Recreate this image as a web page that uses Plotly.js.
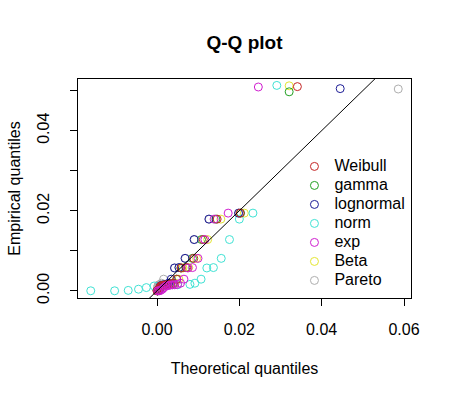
<!DOCTYPE html>
<html>
<head>
<meta charset="utf-8">
<script src="https://cdn.plot.ly/plotly-3.0.1.min.js"></script>
<style>html,body{margin:0;padding:0;background:#fff;}#chart{width:451px;height:397px;}</style>
</head>
<body>
<div id="chart"></div>
<script>
// Empirical quantiles (shared, ranks 1..19) and per-series top value
const empirical = [0.0000, 0.0000, 0.0001, 0.0004, 0.0008, 0.0012, 0.0013, 0.0014, 0.0015, 0.0015, 0.0016, 0.0019, 0.0029, 0.0057, 0.0058, 0.0081, 0.0128, 0.0179, 0.0194];
const seriesNames = ["Weibull", "gamma", "lognormal", "norm", "exp", "Beta", "Pareto"];
const empiricalTop = [0.0510, 0.0497, 0.0505, 0.0513, 0.0509, 0.0512, 0.0504];

// Theoretical quantiles per fitted distribution
const weibull = [0.00002, 0.00011, 0.00025, 0.00043, 0.00065, 0.00092, 0.00124, 0.00162, 0.00206, 0.00258, 0.00319, 0.00392, 0.00480, 0.00587, 0.00721, 0.00893, 0.01124, 0.0146, 0.0202, 0.0341];
const gamma = [0.00004, 0.00018, 0.00036, 0.00058, 0.00083, 0.00112, 0.00145, 0.00183, 0.00226, 0.00275, 0.0033, 0.0040, 0.0048, 0.0058, 0.0070, 0.0086, 0.0108, 0.0143, 0.0203, 0.0321];
const lognormal = [0.00010, 0.00022, 0.00035, 0.00049, 0.00065, 0.00083, 0.00104, 0.00128, 0.00157, 0.00190, 0.00232, 0.00281, 0.00345, 0.00426, 0.00533, 0.0068, 0.0090, 0.0126, 0.0198, 0.0445];
const norm = [-0.0161, -0.0103, -0.0070, -0.0045, -0.0026, -0.0007, 0.0009, 0.0023, 0.0038, 0.0050, 0.0080, 0.0092, 0.0107, 0.0121, 0.0137, 0.0156, 0.0176, 0.0200, 0.0233, 0.0291];
const expo = [0.00017, 0.00052, 0.00089, 0.00128, 0.00170, 0.00215, 0.00262, 0.00313, 0.00369, 0.00430, 0.00497, 0.00571, 0.00654, 0.00750, 0.00861, 0.00995, 0.01163, 0.01387, 0.01728, 0.02461];
const beta = [0.00005, 0.0002, 0.0004, 0.00065, 0.00095, 0.0013, 0.0017, 0.0021, 0.0026, 0.0031, 0.0037, 0.0044, 0.0053, 0.0063, 0.0077, 0.0096, 0.0123, 0.0155, 0.0212, 0.0321];
const pareto = [0.00000, 0.00002, 0.00005, 0.0001, 0.00015, 0.0002, 0.00028, 0.00036, 0.00046, 0.0006, 0.0008, 0.0011, 0.0016, 0.0042, 0.0053, 0.0069, 0.0091, 0.0127, 0.0199, 0.0586];

const xTickVals = [0, 0.02, 0.04, 0.06];
const xTickText = ["0.00", "0.02", "0.04", "0.06"];
const yTickVals = [0, 0.01, 0.02, 0.03, 0.04, 0.05];
const yTickText = ["0.00", "", "0.02", "", "0.04", ""];

const colors = ["#C42626", "#22A022", "#1C1C96", "#40E2D4", "#D01ED0", "#E4E630", "#AEAEAE"];
const theo = [weibull, gamma, lognormal, norm, expo, beta, pareto];

const xRange = [-0.0192, 0.0617];
const yRange = [-0.0018, 0.0529];
const FONT = "Liberation Sans, Arial, Helvetica, sans-serif";

const traces = [];
// drawing order (bottom to top); legend order kept via legendrank
const drawOrder = [6, 5, 3, 1, 2, 0, 4];
drawOrder.forEach(function (k) {
  traces.push({
    type: "scatter",
    mode: "markers",
    name: '<span style="font-size:16px">' + seriesNames[k] + '</span>',
    x: theo[k],
    y: empirical.concat([empiricalTop[k]]),
    marker: { symbol: "circle-open", size: 8, color: colors[k], line: { width: 1, color: colors[k] } },
    legendrank: k + 1,
    hoverinfo: "skip"
  });
});
// reference line y = x spanning the x axis range
traces.push({
  type: "scatter", mode: "lines", x: xRange, y: xRange,
  line: { color: "#000", width: 1 }, showlegend: false, hoverinfo: "skip"
});

const layout = {
  width: 451, height: 397,
  margin: { l: 78, r: 40, t: 79, b: 99 },
  paper_bgcolor: "#fff", plot_bgcolor: "#fff",
  font: { family: FONT, size: 16, color: "#000" },
  title: { text: "<b>Q-Q plot</b>", font: { family: FONT, size: 19, color: "#000" }, x: 0.5, xref: "paper", y: 1 - 42 / 397, yanchor: "middle" },
  showlegend: true,
  legend: { x: 0.650, xanchor: "left", y: 0.667, yanchor: "top", bgcolor: "rgba(0,0,0,0)", borderwidth: 0, font: { family: FONT, size: 12, color: "#000" }, tracegroupgap: 0 },
  xaxis: {
    range: xRange, tickvals: xTickVals, ticktext: xTickText,
    ticks: "outside", ticklen: 7, tickwidth: 1, tickcolor: "#000",
    showline: true, mirror: true, linecolor: "#000", linewidth: 1,
    showgrid: false, zeroline: false, ticklabelstandoff: 10,
    tickfont: { family: FONT, size: 16, color: "#000" },
    title: { text: "Theoretical quantiles", font: { family: FONT, size: 16, color: "#000" }, standoff: 25 }
  },
  yaxis: {
    range: yRange, tickvals: yTickVals, ticktext: yTickText, tickangle: -90,
    ticks: "outside", ticklen: 7, tickwidth: 1, tickcolor: "#000",
    showline: true, mirror: true, linecolor: "#000", linewidth: 1,
    showgrid: false, zeroline: false, ticklabelstandoff: 15,
    tickfont: { family: FONT, size: 16, color: "#000" },
    title: { text: "Empirical quantiles", font: { family: FONT, size: 16, color: "#000" }, standoff: 9 }
  }
};

Plotly.newPlot("chart", traces, layout, { staticPlot: true, displayModeBar: false });
</script>
</body>
</html>
